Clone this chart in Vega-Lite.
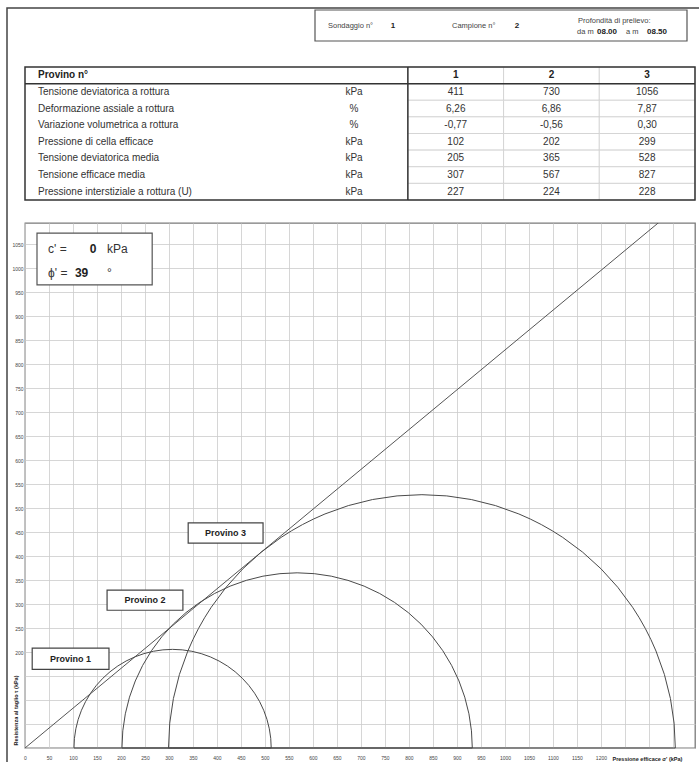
{
  "$schema": "https://vega.github.io/schema/vega-lite/v6.json",
  "autosize": {"type": "none"},
  "width": 670,
  "height": 525,
  "padding": {"left": 25, "top": 223, "right": 4, "bottom": 14},
  "background": "white",
  "config": {"font": "Liberation Sans", "view": {"stroke": "#7a7a7a", "strokeWidth": 1.3}},
  "datasets": {
    "cerchi": [
      {"provino": "Provino 1", "sigma3": 102, "sigma1": 513, "centro": 307.5, "raggio": 205.5},
      {"provino": "Provino 2", "sigma3": 202, "sigma1": 932, "centro": 567, "raggio": 365},
      {"provino": "Provino 3", "sigma3": 299, "sigma1": 1355, "centro": 827, "raggio": 528}
    ],
    "inviluppo": [{"sigma": 0, "tau": 0}, {"sigma": 1400, "tau": 1161}],
    "parametri": [
      {"parametro": "Tensione deviatorica a rottura", "unita": "kPa", "p1": "411", "p2": "730", "p3": "1056"},
      {"parametro": "Deformazione assiale a rottura", "unita": "%", "p1": "6,26", "p2": "6,86", "p3": "7,87"},
      {"parametro": "Variazione volumetrica a rottura", "unita": "%", "p1": "-0,77", "p2": "-0,56", "p3": "0,30"},
      {"parametro": "Pressione di cella efficace", "unita": "kPa", "p1": "102", "p2": "202", "p3": "299"},
      {"parametro": "Tensione deviatorica media", "unita": "kPa", "p1": "205", "p2": "365", "p3": "528"},
      {"parametro": "Tensione efficace media", "unita": "kPa", "p1": "307", "p2": "567", "p3": "827"},
      {"parametro": "Pressione interstiziale a rottura  (U)", "unita": "kPa", "p1": "227", "p2": "224", "p3": "228"}
    ],
    "provini": [{"colonna": "p1", "provino": "1"}, {"colonna": "p2", "provino": "2"}, {"colonna": "p3", "provino": "3"}],
    "intestazione": [
      {"campo": "Sondaggio", "etichetta": "Sondaggio n°", "valore": "1"},
      {"campo": "Campione", "etichetta": "Campione n°", "valore": "2"}
    ],
    "profondita": [{"campo": "Profondità", "etichetta": "Profondità di prelievo:", "da": "08.00", "a": "08.50"}]
  },
  "layer": [
    {
      "layer": [
        {
          "data": {"name": "inviluppo"},
          "mark": {"type": "line", "clip": true, "color": "#555555", "strokeWidth": 1},
          "encoding": {
            "x": {"field": "sigma", "type": "quantitative", "scale": {"domain": [0, 1396], "nice": false, "zero": false},
              "axis": {"tickCount": 28, "format": "d", "labelExpr": "datum.value <= 1200 ? datum.label : ''", "grid": true, "gridColor": "#cccccc", "gridWidth": 0.8, "domain": false, "ticks": false, "tickSize": 0, "labelFontSize": 5, "labelColor": "#444", "labelPadding": 7, "labelOverlap": false, "labelFlush": false, "title": "Pressione efficace σ' (kPa)", "titleX": 587, "titleY": 10, "titleAlign": "left", "titleBaseline": "middle", "titleFontSize": 5.5, "titleFontWeight": "bold", "titleColor": "#222"}},
            "y": {"field": "tau", "type": "quantitative", "scale": {"domain": [0, 1094], "nice": false, "zero": false},
              "axis": {"tickCount": 22, "format": "d", "labelExpr": "datum.value >= 200 ? datum.label : ''", "grid": true, "gridColor": "#cccccc", "gridWidth": 0.8, "domain": false, "ticks": false, "tickSize": 0, "labelFontSize": 5, "labelColor": "#444", "labelPadding": 2, "labelOverlap": false, "labelFlush": false, "title": "Resistenza al taglio τ (kPa)", "titleAngle": 270, "titleX": -10, "titleY": 522, "titleAlign": "left", "titleBaseline": "middle", "titleFontSize": 5.5, "titleFontWeight": "bold", "titleColor": "#222"}}
          }
        },
        {
          "data": {"name": "cerchi"},
          "mark": {"type": "arc", "theta": -1.5707963, "theta2": 1.5707963, "filled": false, "stroke": "#4a4a4a", "strokeWidth": 1},
          "encoding": {
            "x": {"field": "centro", "type": "quantitative", "stack": null},
            "y": {"datum": 0, "type": "quantitative"},
            "radius": {"field": "raggio", "type": "quantitative", "stack": null, "scale": {"type": "linear", "domain": [0, 1396], "range": [0, 670], "zero": true}, "legend": null}
          }
        },
        {"data": {"values": [{}]}, "mark": {"type": "rect", "fill": "white", "stroke": "#444", "strokeWidth": 1.2},
          "encoding": {"x": {"datum": 15, "type": "quantitative"}, "x2": {"datum": 175}, "y": {"datum": 164, "type": "quantitative"}, "y2": {"datum": 208}}},
        {"data": {"values": [{}]}, "mark": {"type": "text", "fontWeight": "bold", "fontSize": 9, "color": "#222"},
          "encoding": {"x": {"datum": 95, "type": "quantitative"}, "y": {"datum": 186, "type": "quantitative"}, "text": {"value": "Provino 1"}}},
        {"data": {"values": [{}]}, "mark": {"type": "rect", "fill": "white", "stroke": "#444", "strokeWidth": 1.2},
          "encoding": {"x": {"datum": 171, "type": "quantitative"}, "x2": {"datum": 329}, "y": {"datum": 287, "type": "quantitative"}, "y2": {"datum": 329}}},
        {"data": {"values": [{}]}, "mark": {"type": "text", "fontWeight": "bold", "fontSize": 9, "color": "#222"},
          "encoding": {"x": {"datum": 250, "type": "quantitative"}, "y": {"datum": 308, "type": "quantitative"}, "text": {"value": "Provino 2"}}},
        {"data": {"values": [{}]}, "mark": {"type": "rect", "fill": "white", "stroke": "#444", "strokeWidth": 1.2},
          "encoding": {"x": {"datum": 340, "type": "quantitative"}, "x2": {"datum": 496}, "y": {"datum": 427, "type": "quantitative"}, "y2": {"datum": 469}}},
        {"data": {"values": [{}]}, "mark": {"type": "text", "fontWeight": "bold", "fontSize": 9, "color": "#222"},
          "encoding": {"x": {"datum": 418, "type": "quantitative"}, "y": {"datum": 448, "type": "quantitative"}, "text": {"value": "Provino 3"}}},
        {"data": {"values": [{}]}, "mark": {"type": "rect", "fill": "white", "stroke": "#555", "strokeWidth": 1.2},
          "encoding": {"x": {"datum": 25, "type": "quantitative"}, "x2": {"datum": 265}, "y": {"datum": 965, "type": "quantitative"}, "y2": {"datum": 1073}}},
        {"data": {"values": [{}]}, "mark": {"type": "text", "fontSize": 12, "align": "left", "color": "#333"},
          "encoding": {"x": {"datum": 48, "type": "quantitative"}, "y": {"datum": 1040, "type": "quantitative"}, "text": {"value": "c' ="}}},
        {"data": {"values": [{}]}, "mark": {"type": "text", "fontSize": 12, "fontWeight": "bold", "align": "left", "color": "#222"},
          "encoding": {"x": {"datum": 135, "type": "quantitative"}, "y": {"datum": 1040, "type": "quantitative"}, "text": {"value": "0"}}},
        {"data": {"values": [{}]}, "mark": {"type": "text", "fontSize": 12, "align": "left", "color": "#333"},
          "encoding": {"x": {"datum": 171, "type": "quantitative"}, "y": {"datum": 1040, "type": "quantitative"}, "text": {"value": "kPa"}}},
        {"data": {"values": [{}]}, "mark": {"type": "text", "fontSize": 12, "align": "left", "color": "#333"},
          "encoding": {"x": {"datum": 48, "type": "quantitative"}, "y": {"datum": 990, "type": "quantitative"}, "text": {"value": "ϕ' ="}}},
        {"data": {"values": [{}]}, "mark": {"type": "text", "fontSize": 12, "fontWeight": "bold", "align": "left", "color": "#222"},
          "encoding": {"x": {"datum": 104, "type": "quantitative"}, "y": {"datum": 990, "type": "quantitative"}, "text": {"value": "39"}}},
        {"data": {"values": [{}]}, "mark": {"type": "text", "fontSize": 12, "align": "left", "color": "#333"},
          "encoding": {"x": {"datum": 171, "type": "quantitative"}, "y": {"datum": 990, "type": "quantitative"}, "text": {"value": "°"}}}
      ]
    },
    {
      "layer": [
        {
          "data": {"name": "parametri"},
          "transform": [{"fold": ["p1", "p2", "p3"], "as": ["colonna", "valore"]}],
          "mark": {"type": "rect", "fill": "white", "stroke": "#cfcfcf", "strokeWidth": 0.8},
          "encoding": {
            "x": {"field": "colonna", "type": "nominal", "scale": {"type": "band", "domain": ["param", "g1", "g2", "unit", "p1", "p2", "p3"], "range": [0, 670], "paddingInner": 0, "paddingOuter": 0}, "axis": null},
            "y": {"field": "parametro", "type": "nominal", "scale": {"type": "band", "domain": ["Provino n°", "Tensione deviatorica a rottura", "Deformazione assiale a rottura", "Variazione volumetrica a rottura", "Pressione di cella efficace", "Tensione deviatorica media", "Tensione efficace media", "Pressione interstiziale a rottura  (U)"], "range": [-156, -23], "paddingInner": 0, "paddingOuter": 0}, "axis": null}
          }
        },
        {
          "data": {"name": "provini"},
          "mark": {"type": "rect", "fill": "white", "stroke": "#cfcfcf", "strokeWidth": 0.8},
          "encoding": {
            "x": {"field": "colonna", "type": "nominal"},
            "y": {"datum": "Provino n°", "type": "nominal"}
          }
        },
        {
          "data": {"values": [{}]},
          "mark": {"type": "rule", "color": "#333", "strokeWidth": 1.5},
          "encoding": {
            "x": {"datum": "p1", "type": "nominal", "bandPosition": 0},
            "y": {"datum": "Provino n°", "type": "nominal", "bandPosition": 0},
            "y2": {"datum": "Pressione interstiziale a rottura  (U)", "bandPosition": 1}
          }
        },
        {
          "data": {"values": [{}]},
          "mark": {"type": "rule", "color": "#333", "strokeWidth": 1.5},
          "encoding": {
            "y": {"datum": "Tensione deviatorica a rottura", "type": "nominal", "bandPosition": 0}
          }
        },
        {
          "data": {"values": [{}]},
          "mark": {"type": "rect", "fillOpacity": 0, "stroke": "#333", "strokeWidth": 1.5},
          "encoding": {
            "y": {"datum": "Provino n°", "type": "nominal", "bandPosition": 0},
            "y2": {"datum": "Pressione interstiziale a rottura  (U)", "bandPosition": 1}
          }
        },
        {
          "data": {"name": "parametri"},
          "mark": {"type": "text", "align": "left", "dx": 13, "fontSize": 10, "color": "#333"},
          "encoding": {
            "x": {"datum": "param", "type": "nominal", "bandPosition": 0},
            "y": {"field": "parametro", "type": "nominal"},
            "text": {"field": "parametro"}
          }
        },
        {
          "data": {"name": "parametri"},
          "mark": {"type": "text", "align": "center", "dx": -6, "fontSize": 10, "color": "#333"},
          "encoding": {
            "x": {"datum": "unit", "type": "nominal"},
            "y": {"field": "parametro", "type": "nominal"},
            "text": {"field": "unita"}
          }
        },
        {
          "data": {"name": "parametri"},
          "transform": [{"fold": ["p1", "p2", "p3"], "as": ["colonna", "valore"]}],
          "mark": {"type": "text", "align": "center", "fontSize": 10, "color": "#333"},
          "encoding": {
            "x": {"field": "colonna", "type": "nominal"},
            "y": {"field": "parametro", "type": "nominal"},
            "text": {"field": "valore"}
          }
        },
        {
          "data": {"values": [{}]},
          "mark": {"type": "text", "align": "left", "dx": 13, "fontSize": 10, "fontWeight": "bold", "color": "#222"},
          "encoding": {
            "x": {"datum": "param", "type": "nominal", "bandPosition": 0},
            "y": {"datum": "Provino n°", "type": "nominal"},
            "text": {"value": "Provino n°"}
          }
        },
        {
          "data": {"name": "provini"},
          "mark": {"type": "text", "align": "center", "fontSize": 10, "fontWeight": "bold", "color": "#222"},
          "encoding": {
            "x": {"field": "colonna", "type": "nominal"},
            "y": {"datum": "Provino n°", "type": "nominal"},
            "text": {"field": "provino"}
          }
        }
      ]
    },
    {
      "layer": [
        {
          "data": {"values": [{}]},
          "mark": {"type": "rect", "fillOpacity": 0, "stroke": "#555", "strokeWidth": 1.2},
          "encoding": {
            "x": {"datum": "Sondaggio", "type": "nominal", "bandPosition": 0, "scale": {"type": "band", "domain": ["Sondaggio", "Campione", "Profondità"], "range": [290, 662], "paddingInner": 0, "paddingOuter": 0}, "axis": null},
            "x2": {"datum": "Profondità", "bandPosition": 1},
            "y": {"datum": "top", "type": "nominal", "bandPosition": 0, "scale": {"type": "band", "domain": ["top", "bottom"], "range": [-213, -182], "paddingInner": 0, "paddingOuter": 0}, "axis": null},
            "y2": {"datum": "bottom", "bandPosition": 1}
          }
        },
        {
          "data": {"name": "intestazione"},
          "mark": {"type": "text", "align": "left", "baseline": "middle", "dx": 13, "fontSize": 7.5, "color": "#444"},
          "encoding": {
            "x": {"field": "campo", "type": "nominal", "bandPosition": 0},
            "y": {"datum": "bottom", "type": "nominal", "bandPosition": 0.05},
            "text": {"field": "etichetta"}
          }
        },
        {
          "data": {"name": "intestazione"},
          "mark": {"type": "text", "align": "center", "baseline": "middle", "dx": 78, "fontSize": 8, "fontWeight": "bold", "color": "#222"},
          "encoding": {
            "x": {"field": "campo", "type": "nominal", "bandPosition": 0},
            "y": {"datum": "bottom", "type": "nominal", "bandPosition": 0.05},
            "text": {"field": "valore"}
          }
        },
        {
          "data": {"name": "profondita"},
          "mark": {"type": "text", "align": "left", "baseline": "middle", "dx": 15, "fontSize": 7.5, "color": "#444"},
          "encoding": {
            "x": {"field": "campo", "type": "nominal", "bandPosition": 0},
            "y": {"datum": "top", "type": "nominal", "bandPosition": 0.7},
            "text": {"field": "etichetta"}
          }
        },
        {
          "data": {"name": "profondita"},
          "mark": {"type": "text", "align": "left", "baseline": "middle", "dx": 14, "fontSize": 7.5, "color": "#444"},
          "encoding": {
            "x": {"field": "campo", "type": "nominal", "bandPosition": 0},
            "y": {"datum": "bottom", "type": "nominal", "bandPosition": 0.45},
            "text": {"value": "da m"}
          }
        },
        {
          "data": {"name": "profondita"},
          "mark": {"type": "text", "align": "left", "baseline": "middle", "dx": 34, "fontSize": 8, "fontWeight": "bold", "color": "#222"},
          "encoding": {
            "x": {"field": "campo", "type": "nominal", "bandPosition": 0},
            "y": {"datum": "bottom", "type": "nominal", "bandPosition": 0.45},
            "text": {"field": "da"}
          }
        },
        {
          "data": {"name": "profondita"},
          "mark": {"type": "text", "align": "left", "baseline": "middle", "dx": 63, "fontSize": 7.5, "color": "#444"},
          "encoding": {
            "x": {"field": "campo", "type": "nominal", "bandPosition": 0},
            "y": {"datum": "bottom", "type": "nominal", "bandPosition": 0.45},
            "text": {"value": "a m"}
          }
        },
        {
          "data": {"name": "profondita"},
          "mark": {"type": "text", "align": "left", "baseline": "middle", "dx": 84, "fontSize": 8, "fontWeight": "bold", "color": "#222"},
          "encoding": {
            "x": {"field": "campo", "type": "nominal", "bandPosition": 0},
            "y": {"datum": "bottom", "type": "nominal", "bandPosition": 0.45},
            "text": {"field": "a"}
          }
        }
      ]
    },
    {
      "data": {"values": [{}]},
      "mark": {"type": "rect", "fillOpacity": 0, "stroke": "#444", "strokeWidth": 1.5},
      "encoding": {
        "x": {"datum": 0, "type": "quantitative", "scale": {"domain": [0, 1], "range": [-18, 700], "nice": false, "zero": false}, "axis": null},
        "x2": {"datum": 1},
        "y": {"datum": 0, "type": "quantitative", "scale": {"domain": [0, 1], "range": [-215, 560], "nice": false, "zero": false}, "axis": null},
        "y2": {"datum": 1}
      }
    }
  ],
  "resolve": {"scale": {"x": "independent", "y": "independent"}}
}
